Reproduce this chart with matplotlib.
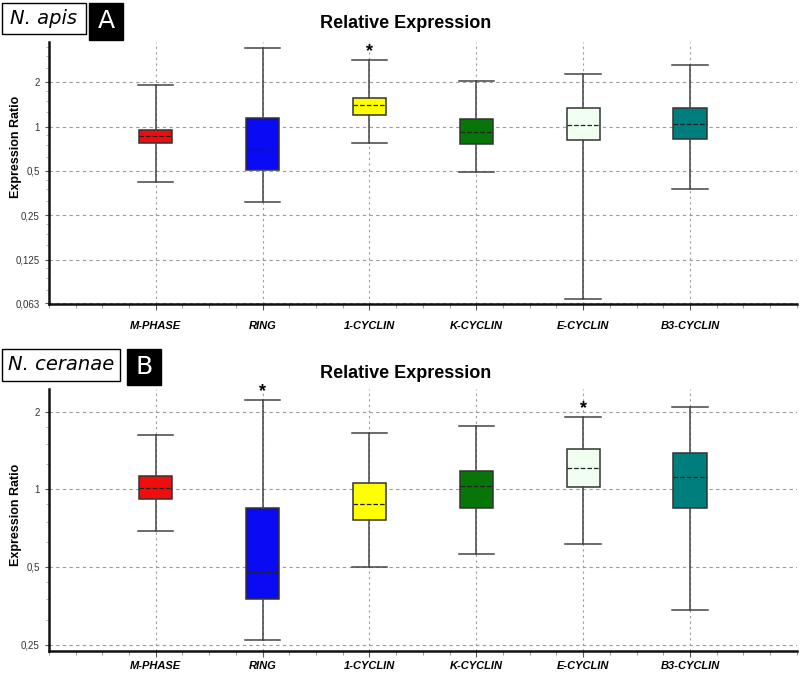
import matplotlib
matplotlib.use("Agg")
import matplotlib.pyplot as plt
from matplotlib.ticker import FixedLocator, FuncFormatter, LogLocator, NullFormatter
from matplotlib.patches import Rectangle

plt.rcParams['font.family'] = ['Liberation Sans', 'DejaVu Sans']

genes = ['M-PHASE', 'RING', '1-CYCLIN', 'K-CYCLIN', 'E-CYCLIN', 'B3-CYCLIN']
colors = ['#f00d0d', '#0a0af5', '#ffff00', '#077507', '#f0fff0', '#007d7d']

# N. apis (panel A): whisker low, Q1, median, Q3, whisker high
apis_low = [0.42, 0.31, 0.77, 0.49, 0.068, 0.38]
apis_q1 = [0.77, 0.51, 1.20, 0.76, 0.81, 0.83]
apis_med = [0.87, 0.70, 1.41, 0.92, 1.02, 1.05]
apis_q3 = [0.955, 1.145, 1.56, 1.13, 1.34, 1.34]
apis_high = [1.92, 3.40, 2.84, 2.03, 2.29, 2.63]
apis_sig = [False, False, True, False, False, False]
apis_ticks = [0.063, 0.125, 0.25, 0.5, 1, 2]

# N. ceranae (panel B)
cer_low = [0.69, 0.26, 0.50, 0.56, 0.615, 0.34]
cer_q1 = [0.915, 0.375, 0.76, 0.85, 1.02, 0.85]
cer_med = [1.01, 0.48, 0.88, 1.03, 1.21, 1.12]
cer_q3 = [1.13, 0.85, 1.06, 1.18, 1.44, 1.38]
cer_high = [1.63, 2.22, 1.66, 1.76, 1.91, 2.08]
cer_sig = [False, True, False, False, True, False]
cer_ticks = [0.25, 0.5, 1, 2]

fig = plt.figure(figsize=(8, 6.77), dpi=100)


def fmt(v, pos):
    return ('%g' % v).replace('.', ',')


def panel(ax, low, q1, med, q3, high, sig, ticks, ylim, xpad, label_y):
    stats = []
    for i in range(len(genes)):
        stats.append(dict(whislo=low[i], q1=q1[i], med=med[i], q3=q3[i],
                          whishi=high[i], label=genes[i]))
    pos = list(range(1, len(genes) + 1))
    bp = ax.bxp(stats, positions=pos, widths=0.31, patch_artist=True,
                showfliers=False,
                boxprops=dict(edgecolor='#333333', linewidth=1.1),
                whiskerprops=dict(color='#444444', linewidth=1.1),
                capprops=dict(color='#444444', linewidth=1.1),
                medianprops=dict(color='#222222', linestyle='--', linewidth=0.9),
                capwidths=0.33)
    for patch, c in zip(bp['boxes'], colors):
        patch.set_facecolor(c)
    # significance stars above the upper whisker
    for i, s in enumerate(sig):
        if s:
            ax.annotate('*', (pos[i], high[i]), xytext=(0, 0),
                        textcoords='offset points', ha='center', va='bottom',
                        fontsize=13, fontweight='bold')
    ax.set_yscale('log', base=2)
    ax.set_ylim(*ylim)
    ax.set_xlim(0, 7)
    ax.yaxis.set_major_locator(FixedLocator(ticks))
    ax.yaxis.set_major_formatter(FuncFormatter(fmt))
    ax.yaxis.set_minor_locator(LogLocator(base=2, subs=(1.25, 1.5, 1.75)))
    ax.yaxis.set_minor_formatter(NullFormatter())
    ax.set_xticks(pos)
    ax.set_xticklabels(genes, fontsize=8, fontweight='bold', style='italic')
    ax.set_xticks([i * 0.25 for i in range(29)], minor=True)
    ax.tick_params(axis='x', which='major', length=4, pad=xpad, color='#555555')
    ax.tick_params(axis='x', which='minor', length=3, color='#888888')
    ax.tick_params(axis='y', which='major', labelsize=7, length=3,
                   labelcolor='#333333', color='#555555')
    ax.tick_params(axis='y', which='minor', length=2, color='#aaaaaa')
    ax.grid(True, axis='y', which='major', color='#9a9a9a', linestyle=(0, (3, 3)), linewidth=0.8)
    ax.grid(True, axis='x', which='major', color='#9a9a9a', linestyle=(0, (2, 3)), linewidth=0.8)
    ax.set_axisbelow(True)
    for side in ['top', 'right']:
        ax.spines[side].set_visible(False)
    for side in ['left', 'bottom']:
        ax.spines[side].set_linewidth(1.8)
        ax.spines[side].set_color('#111111')
    ax.set_ylabel('Expression Ratio', fontsize=9, fontweight='bold')
    ax.yaxis.set_label_coords(-0.036, label_y)


ax1 = fig.add_axes([0.061, 0.551, 0.935, 0.387])
panel(ax1, apis_low, apis_q1, apis_med, apis_q3, apis_high, apis_sig,
      apis_ticks, (0.0625, 3.76), 8, 0.6)
ax2 = fig.add_axes([0.061, 0.0384, 0.935, 0.387])
panel(ax2, cer_low, cer_q1, cer_med, cer_q3, cer_high, cer_sig,
      cer_ticks, (0.236, 2.45), 3, 0.52)

fig.text(406 / 800, 1 - 23 / 677, 'Relative Expression', ha='center', va='center',
         fontsize=13, fontweight='bold')
fig.text(406 / 800, 1 - 373 / 677, 'Relative Expression', ha='center', va='center',
         fontsize=13, fontweight='bold')


def label_box(x0, y0, x1, y1, text, dark, italic):
    fig.patches.append(Rectangle((x0 / 800, 1 - y1 / 677), (x1 - x0) / 800,
                                 (y1 - y0) / 677, transform=fig.transFigure,
                                 facecolor='black' if dark else 'white',
                                 edgecolor='black', linewidth=1))
    fig.text((x0 + x1) / 1600, 1 - (y0 + y1) / 1354, text, ha='center', va='center',
             fontsize=18 if dark else 14, color='white' if dark else 'black',
             style='italic' if italic else 'normal', family='DejaVu Sans')


label_box(2, 3, 86, 34, 'N. apis', False, True)
label_box(89, 3, 123, 40, 'A', True, False)
label_box(2, 349, 120, 381, 'N. ceranae', False, True)
label_box(127, 349, 161, 385, 'B', True, False)

fig.savefig('out.png', dpi=100)
